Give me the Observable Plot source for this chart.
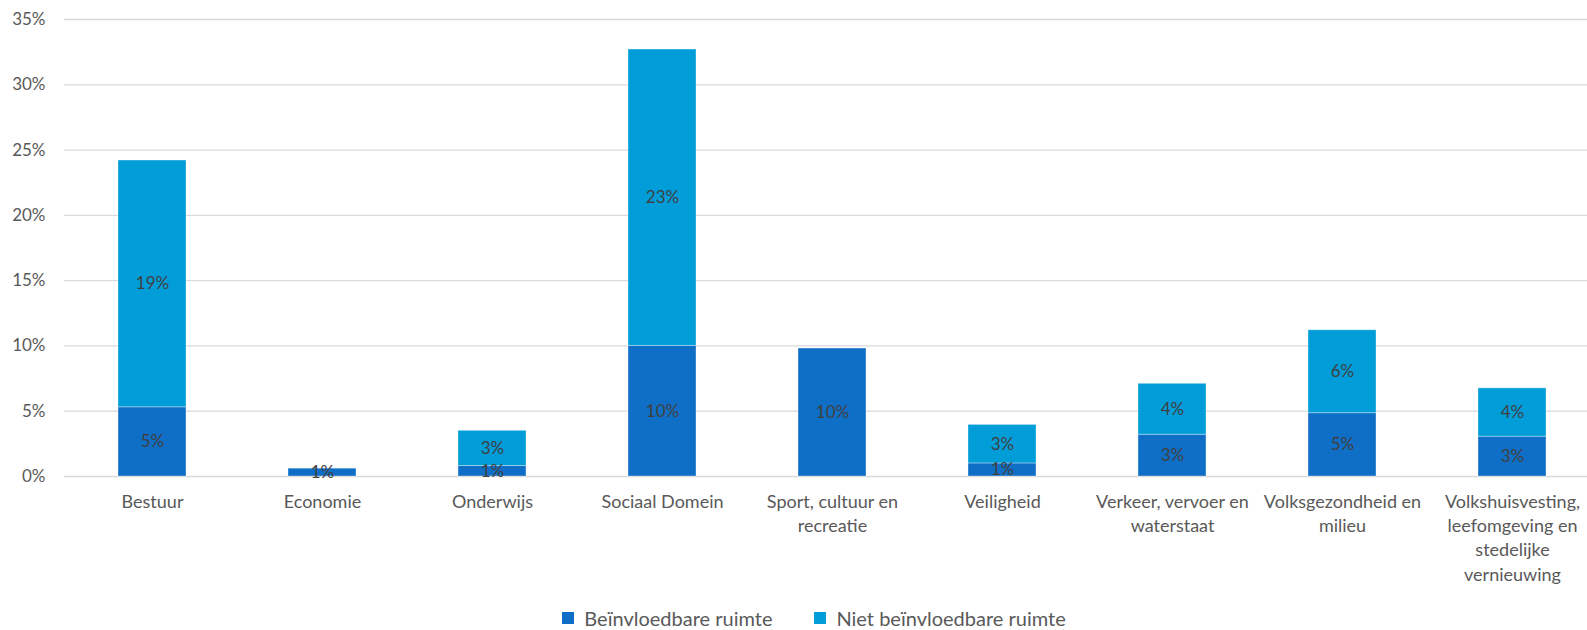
<!DOCTYPE html>
<html>
<head>
<meta charset="utf-8">
<script src="https://cdn.jsdelivr.net/npm/d3@7"></script>
<script src="https://cdn.jsdelivr.net/npm/@observablehq/plot@0.6"></script>
<style>
  html, body { margin: 0; padding: 0; background: #fff; }
  #chart { width: 1587px; }
  #legend { display: flex; justify-content: center; margin-top: 6px; margin-left: 83px; }
  .lg-swatches { font-family: Lato, sans-serif; font-size: 20px; color: #595959; }
  .lg-swatch { margin-right: 42px !important; }
</style>
</head>
<body>
<div id="chart"></div>
<div id="legend"></div>
<script>
const categories = ["Bestuur", "Economie", "Onderwijs", "Sociaal Domein", "Sport, cultuur en recreatie", "Veiligheid", "Verkeer, vervoer en waterstaat", "Volksgezondheid en milieu", "Volkshuisvesting, leefomgeving en stedelijke vernieuwing"];
const tickLabels = ["Bestuur", "Economie", "Onderwijs", "Sociaal Domein", "Sport, cultuur en\nrecreatie", "Veiligheid", "Verkeer, vervoer en\nwaterstaat", "Volksgezondheid en\nmilieu", "Volkshuisvesting,\nleefomgeving en\nstedelijke\nvernieuwing"];
const seriesNames = ["Beïnvloedbare ruimte", "Niet beïnvloedbare ruimte"];
const beinvloedbaar = [5.3, 0.6, 0.8, 10.0, 9.8, 1.0, 3.2, 4.85, 3.05];
const nietBeinvloedbaar = [18.9, 0, 2.7, 22.7, 0, 2.95, 3.9, 6.35, 3.7];
const yTicks = [0, 5, 10, 15, 20, 25, 30, 35];
const seriesColors = ["#0F6FC6", "#009DD9"];

const rows = [
  ...categories.map((c, i) => ({category: c, series: seriesNames[0], value: beinvloedbaar[i]})),
  ...categories.map((c, i) => ({category: c, series: seriesNames[1], value: nietBeinvloedbaar[i]}))
];
const tickRows = categories.map((c, i) => ({category: c, label: tickLabels[i]}));

const H = 595;
const chart = Plot.plot({
  width: 1587,
  height: H,
  marginTop: 19,
  marginBottom: H - 476,
  marginLeft: 64,
  marginRight: 0,
  style: {fontFamily: "Lato, sans-serif", background: "#fff", overflow: "hidden"},
  x: {domain: categories, range: [64, 1599], paddingInner: 0.6, paddingOuter: 0.3, axis: null},
  y: {domain: [0, 35], axis: null},
  color: {domain: seriesNames, range: seriesColors},
  marks: [
    Plot.ruleY(yTicks, {stroke: "#d9d9d9", strokeWidth: 1.3}),
    Plot.barY(rows, Plot.stackY({x: "category", y: "value", fill: "series", stroke: "#ffffff", strokeOpacity: 0.35, strokeWidth: 1})),
    Plot.text(rows, Plot.stackY({x: "category", y: "value", z: "series", text: d => d.value > 0 ? Math.round(d.value) + "%" : "", fill: "#404040", fontSize: 17})),
    Plot.axisY(yTicks, {tickSize: 0, tickPadding: 19, tickFormat: d => d + "%", fontSize: 17, color: "#595959", label: null}),
    Plot.text(tickRows, {x: "category", y: 0, text: "label", lineAnchor: "top", dy: 14, lineHeight: 1.35, fontSize: 18, fill: "#595959"})
  ]
});
document.getElementById("chart").appendChild(chart);

const legend = Plot.legend({
  color: {domain: seriesNames, range: seriesColors, type: "ordinal"},
  swatchSize: 12,
  className: "lg"
});
document.getElementById("legend").appendChild(legend);
</script>
</body>
</html>
